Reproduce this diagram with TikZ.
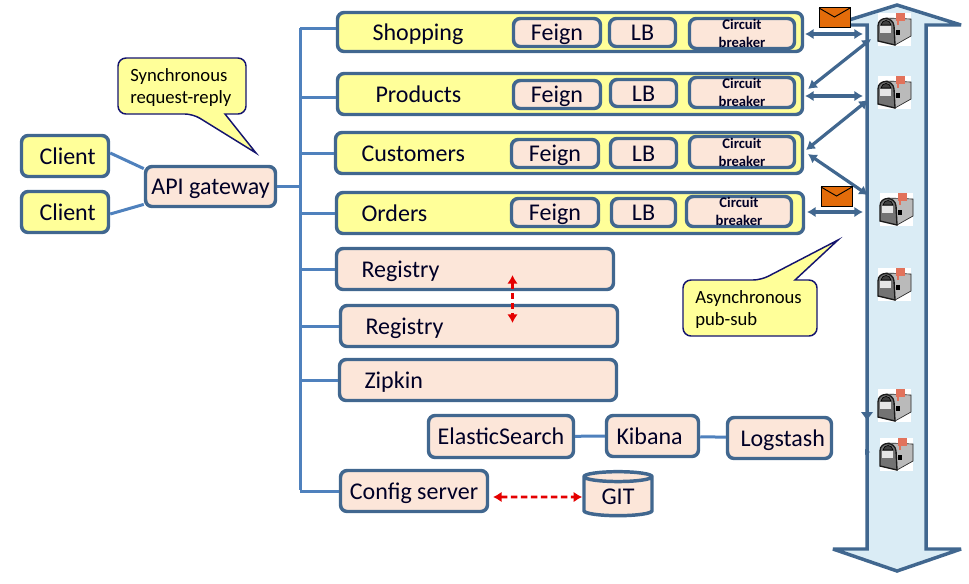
\documentclass[tikz,border=0pt]{standalone}
\usepackage{fontspec}
\setmainfont{Carlito}
\usetikzlibrary{arrows.meta,shapes.geometric,calc}
\definecolor{edgeblue}{HTML}{41678F}
\definecolor{linkblue}{HTML}{4F81BD}
\definecolor{svcfill}{HTML}{FFFF99}
\definecolor{partfill}{HTML}{FCE6D9}
\definecolor{busfill}{HTML}{DAECF5}
\definecolor{notenavy}{HTML}{14146E}
\definecolor{mailorange}{HTML}{E36C0A}
\definecolor{flagred}{HTML}{E2725B}
\newcommand{\lbltext}{\fontsize{18pt}{20pt}\selectfont}
\newcommand{\cbtext}{\fontsize{11pt}{13.4pt}\selectfont\bfseries}
\newcommand{\notetext}{\fontsize{14pt}{16.5pt}\selectfont}
% name, x1, y1, x2, y2, style, left pad, text (left aligned)
\newcommand{\leftbox}[8]{%
  \node[#6, inner xsep=0pt, align=left, text width={(#4-#2-3)*0.75pt}, minimum height={(#5-#3-3)*0.75pt}]
    (#1) at ({(#2+#4)/2},{(#3+#5)/2}) {\hspace*{\dimexpr #7pt*3/4\relax}#8};}
% name, x1, y1, x2, y2, style, text (centred)
\newcommand{\midbox}[7]{%
  \node[#6, inner sep=0pt, align=center, minimum width={(#4-#2-3)*0.75pt}, minimum height={(#5-#3-3)*0.75pt}]
    (#1) at ({(#2+#4)/2},{(#3+#5)/2}) {#7};}
\tikzset{
  boxbase/.style={draw=edgeblue, line width=2.6pt, rounded corners=5pt, font=\lbltext, text=black!85!blue,
    text height=15.5pt, text depth=3.5pt},
  svcbox/.style={boxbase, fill=svcfill},
  partbox/.style={boxbase, fill=partfill},
  cbbox/.style={draw=edgeblue, line width=2.6pt, rounded corners=5pt, fill=partfill, font=\cbtext, text=black!85!blue},
  bline/.style={draw=linkblue, line width=2.25pt},
  duplex/.style={draw=edgeblue, line width=2.4pt, {Latex[length=6.5pt,width=8pt]}-{Latex[length=6.5pt,width=8pt]}},
  reddash/.style={draw=red!90!black, line width=2.2pt, dash pattern=on 5pt off 2.5pt,
    {Latex[length=6.5pt,width=8pt]}-{Latex[length=6.5pt,width=8pt]}},
  notebody/.style={draw=notenavy, line width=1.1pt, fill=svcfill},
  notelabel/.style={font=\notetext, align=left, inner sep=0pt, text=black},
  envelope/.pic={
    \draw[black, line width=.5pt, fill=mailorange] (0,0) rectangle (31,20);
    \draw[black, line width=.7pt] (0,1) -- (15.5,10) -- (31,1);
  },
  mailbox/.pic={
    \fill[white] (0,0) rectangle (33,33);
    \draw[black!85, line width=.5pt, fill=black!27] (8,5) -- (33,6) -- (33,23) -- (17,32) -- (8,28) -- cycle;
    \fill[flagred] (18,0) rectangle (27,8);
    \fill[flagred] (19,8) rectangle (21,12);
    \draw[black!90, line width=1pt, fill=black!55] (0,28) -- (0,13) .. controls (0,3) and (15,3) .. (16,13) -- (17,32) -- cycle;
    \draw[black, line width=.5pt, fill=black!75] (3,12) .. controls (4,6) and (12,6) .. (13,12) -- cycle;
    \fill[black!10] (2,13) rectangle (13,20);
    \fill[black] (18,17) rectangle (22,22);
  }
}
\begin{document}
\begin{tikzpicture}[x=0.75pt,y=-0.75pt]
\useasboundingbox (0,0) rectangle (969,583);
% message bus
\draw[draw=edgeblue, line width=2.6pt, fill=busfill, line join=miter, miter limit=4]
  (897,5) -- (961,25) -- (926,25) -- (926,549) -- (961,549) -- (897,571) -- (833,549) -- (867,549) -- (867,25) -- (833,25) -- cycle;
% mailboxes
\pic at (878,13) {mailbox};
\pic at (878,76) {mailbox};
\pic at (880,193) {mailbox};
\pic at (878,268) {mailbox};
\pic at (878,389) {mailbox};
\pic at (880,438) {mailbox};
% services
\leftbox{shopping}{336}{11}{804}{53}{svcbox}{35}{Shopping}
\midbox{fa}{512}{17}{602}{48}{partbox}{Feign}
\midbox{la}{608}{17}{677}{48}{partbox}{LB}
\midbox{ca}{688}{17}{796}{50}{cbbox}{Circuit\\breaker}
\leftbox{products}{336}{72}{804}{116}{svcbox}{38}{Products}
\midbox{fb}{512}{79}{602}{110}{partbox}{Feign}
\midbox{lb}{609}{78}{678}{108}{partbox}{LB}
\midbox{cb}{688}{76}{796}{109}{cbbox}{Circuit\\breaker}
\leftbox{customers}{334}{131}{804}{175}{svcbox}{26}{Customers}
\midbox{fc}{510}{138}{600}{169}{partbox}{Feign}
\midbox{lc}{609}{137}{678}{169}{partbox}{LB}
\midbox{cc}{688}{135}{796}{169}{cbbox}{Circuit\\breaker}
\leftbox{orders}{335}{191}{805}{235}{svcbox}{25}{Orders}
\midbox{fd}{510}{197}{600}{228}{partbox}{Feign}
\midbox{ld}{610}{197}{677}{228}{partbox}{LB}
\midbox{cd}{685}{195}{793}{228}{cbbox}{Circuit\\breaker}
% infrastructure
\leftbox{regone}{335}{247}{615}{291}{partbox}{25}{Registry}
\leftbox{regtwo}{339}{304}{619}{348}{partbox}{25}{Registry}
\leftbox{zipkin}{338}{358}{618}{402}{partbox}{25}{Zipkin}
\midbox{elastic}{427}{414}{575}{459}{partbox}{ElasticSearch}
\leftbox{kibana}{605}{414}{700}{458}{partbox}{10}{Kibana}
\leftbox{logstash}{726}{416}{833}{460}{partbox}{13}{Logstash}
\midbox{config}{339}{469}{489}{513}{partbox}{Config server}
\node[draw=edgeblue, line width=2.6pt, fill=partfill, shape=cylinder, shape border rotate=90, aspect=0.3,
  inner sep=0pt, minimum width=68*0.75pt, minimum height=44*0.75pt, font=\lbltext, text=black!85!blue]
  (git) at (618,497) {\raisebox{-2pt}{GIT}};
% clients and gateway
\leftbox{clientone}{20}{134}{110}{178}{svcbox}{18}{Client}
\leftbox{clienttwo}{20}{190}{110}{234}{svcbox}{18}{Client}
\midbox{gateway}{144}{165}{277}{208}{partbox}{API gateway}
% backbone
\coordinate (bustop) at (300,28);
\coordinate (busbot) at (300,490);
\path[bline] (bustop) -- (busbot);
\path[bline] (gateway.east) -- (gateway.east -| bustop) -- ++(2,0);
\path[bline] ([yshift=3pt]shopping.west) -- ([yshift=3pt]shopping.west -| bustop);
\path[bline] ([yshift=-2.25pt]products.west) -- ([yshift=-2.25pt]products.west -| bustop);
\path[bline] (customers.west) -- (customers.west -| bustop);
\path[bline] (orders.west) -- (orders.west -| bustop);
\path[bline] (regone.west) -- (regone.west -| bustop);
\path[bline] (regtwo.west) -- (regtwo.west -| bustop);
\path[bline] (zipkin.west) -- (zipkin.west -| bustop);
\path[bline] (config.west) -- (config.west -| bustop);
\path[bline] (clientone.east) ++(0,-3) -- (gateway.165);
\path[bline] (clienttwo.east) ++(0,2) -- (gateway.195);
\path[bline] (elastic) -- (kibana);
\path[bline] (kibana) -- (logstash);
% red dashed links
\coordinate (rtop) at (512.5,275);
\coordinate (rbot) at (512.5,323);
\draw[reddash] (rtop) -- (rbot);
\coordinate (rleft) at (493,497);
\draw[reddash] (rleft) -- (git.west);
% service-to-bus links
\coordinate (ba) at (863,34);
\coordinate (bb) at (871,39);
\coordinate (bc) at (863,96);
\coordinate (bd) at (868,100);
\coordinate (be) at (868,195);
\coordinate (bf) at (863,212);
\draw[duplex] (805,34) -- (ba);
\draw[duplex] (808,89) -- (bb);
\draw[duplex] (805,96) -- (bc);
\draw[duplex] (806,150) -- (bd);
\draw[duplex] (808,154) -- (be);
\draw[duplex] (807,212) -- (bf);
\fill[edgeblue] (861,412) -- (873,412) -- (867,420) -- cycle;
\fill[edgeblue] (865,449) -- (870,452) -- (865,455) -- cycle;
% envelopes
\pic at (819,7) {envelope};
\pic at (821,186) {envelope};
% callouts
\draw[notebody] [rounded corners=6pt] (225,114) -- (246,114) -- (246,58) -- (118,58) -- (118,114) -- (193,114) [sharp corners] -- (256,153) -- cycle;
\node[notelabel, anchor=west] (syncnote) at (130,88) {Synchronous\\request-reply};
\draw[notebody] [rounded corners=6pt] (795,280) -- (817,280) -- (817,336) -- (683,336) -- (683,280) -- (761,280) [sharp corners] -- (838,240) -- cycle;
\node[notelabel, anchor=west] (asyncnote) at (695,310) {Asynchronous\\pub-sub};
\end{tikzpicture}
\end{document}
